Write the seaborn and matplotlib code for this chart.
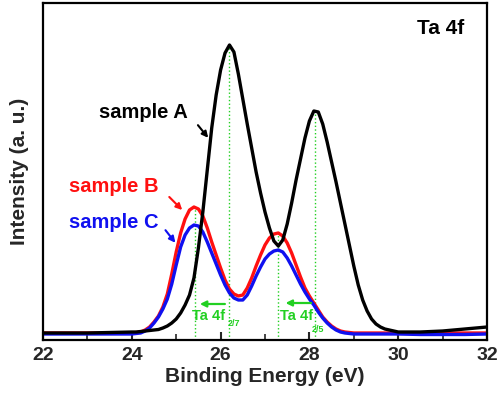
import numpy as np
import pandas as pd
import matplotlib
matplotlib.use("Agg")
import matplotlib.pyplot as plt
from matplotlib.ticker import MultipleLocator
import seaborn as sns

# ---- data ----
energy = [22.0, 22.5, 23.0, 23.5,
          24.0, 24.1, 24.2, 24.3, 24.4, 24.5, 24.6, 24.7, 24.8, 24.9,
          25.0, 25.1, 25.2, 25.3, 25.4, 25.5, 25.6, 25.7, 25.8, 25.9,
          26.0, 26.1, 26.2, 26.3, 26.4, 26.5, 26.6, 26.7, 26.8, 26.9,
          27.0, 27.1, 27.2, 27.3, 27.4, 27.5, 27.6, 27.7, 27.8, 27.9,
          28.0, 28.1, 28.2, 28.3, 28.4, 28.5, 28.6, 28.7, 28.8, 28.9,
          29.0, 29.1, 29.2, 29.3, 29.4, 29.5, 29.6, 29.7, 29.8, 29.9,
          30.0, 30.5, 31.0, 31.5, 32.0]

sample_a = [7, 7, 7, 7.5,
            8, 8, 8.5, 9, 9.5, 10, 10.5, 12, 14, 17,
            21, 27, 35, 45, 62, 92, 128, 170, 212, 245,
            270, 287, 295, 288, 266, 241, 216, 192, 168, 147,
            128, 112, 99, 94, 100, 116, 137, 160, 181, 202,
            219, 229, 228, 216, 198, 178, 158, 137, 116, 95,
            74, 55, 40, 29, 21, 16, 13, 11, 10, 9,
            8, 8, 9, 11, 13]

sample_b = [7, 7, 7, 7,
            7, 7.5, 8, 10, 13, 18, 24, 33, 46, 66,
            88, 107, 121, 130, 133, 131, 124, 112, 98, 85,
            72, 60, 51, 46, 44, 45, 52, 62, 74, 85,
            95, 102, 106, 107, 104, 97, 87, 75, 63, 52,
            44, 37, 30, 23, 18, 14, 11, 9, 8, 7.5,
            7, 7, 7, 7, 7, 7, 7, 7, 7, 7,
            7, 7, 7, 7, 7]

sample_c = [6, 6, 6, 6,
            6, 6.5, 7, 9, 12, 17, 23, 31, 41, 56,
            75, 93, 105, 112, 115, 114, 108, 98, 87, 76,
            65, 55, 47, 42, 40, 40, 45, 54, 64, 73,
            81, 86, 89, 90, 88, 82, 74, 65, 56, 48,
            41, 35, 28, 22, 17, 13, 10, 8, 7, 6.5,
            6, 6, 6, 6, 6, 6, 6, 6, 6, 6,
            6, 5.5, 5.5, 5.5, 6]

series_names = ["sample A", "sample B", "sample C"]
series_colors = {"sample A": "#000000", "sample B": "#ff1010", "sample C": "#1010f0"}

# peak positions (vertical dotted guides) and their heights
peak_pos = [25.43, 26.2, 27.3, 28.13]
peak_top = [133, 295, 107, 230]

green = "#22d022"

df = pd.concat([
    pd.DataFrame({"Binding Energy (eV)": energy, "Intensity": vals, "sample": name})
    for name, vals in zip(series_names, [sample_a, sample_b, sample_c])
], ignore_index=True)

sns.set_theme(style="ticks")
plt.rcParams["font.family"] = ["Liberation Sans", "DejaVu Sans"]
plt.rcParams["font.weight"] = "bold"

fig = plt.figure(figsize=(5, 4), dpi=100)
ax = fig.add_axes([0.086, 0.15, 0.888, 0.8425])

# draw red, blue first, black last
for name in ["sample B", "sample C", "sample A"]:
    sns.lineplot(data=df[df["sample"] == name], x="Binding Energy (eV)", y="Intensity",
                 color=series_colors[name], lw=2.4, ax=ax, legend=False, sort=False)

# dotted guides
for xp, yt in zip(peak_pos, peak_top):
    ax.plot([xp, xp], [0, yt], ls=":", color=green, lw=1.0, zorder=1)

# green arrows and labels
ax.annotate("", xy=(25.47, 36), xytext=(26.16, 36),
            arrowprops=dict(arrowstyle="-|>", color=green, lw=1.6, mutation_scale=9))
ax.annotate("", xy=(27.4, 37), xytext=(28.1, 37),
            arrowprops=dict(arrowstyle="-|>", color=green, lw=1.6, mutation_scale=9))
ax.text(25.36, 24, "Ta 4f", color=green, fontsize=10.5, fontweight="bold", va="center", ha="left")
ax.text(26.16, 16, "2/7", color=green, fontsize=6.5, fontweight="bold", va="center", ha="left")
ax.text(27.34, 24, "Ta 4f", color=green, fontsize=10.5, fontweight="bold", va="center", ha="left")
ax.text(28.06, 11, "2/5", color=green, fontsize=6.5, fontweight="bold", va="center", ha="left")

# sample labels with arrows
ax.text(24.27, 228, "sample A", color="black", fontsize=14.5, fontweight="bold", ha="center", va="center")
ax.annotate("", xy=(25.76, 200), xytext=(25.45, 217),
            arrowprops=dict(arrowstyle="-|>", color="black", lw=1.5, mutation_scale=9))
ax.text(23.6, 153, "sample B", color=series_colors["sample B"], fontsize=14.5, fontweight="bold",
        ha="center", va="center")
ax.annotate("", xy=(25.18, 128), xytext=(24.8, 145),
            arrowprops=dict(arrowstyle="-|>", color=series_colors["sample B"], lw=1.5, mutation_scale=9))
ax.text(23.6, 118, "sample C", color=series_colors["sample C"], fontsize=14.5, fontweight="bold",
        ha="center", va="center")
ax.annotate("", xy=(25.02, 95), xytext=(24.72, 112),
            arrowprops=dict(arrowstyle="-|>", color=series_colors["sample C"], lw=1.5, mutation_scale=9))

ax.text(30.96, 312, "Ta 4f", color="black", fontsize=15, fontweight="bold", ha="center", va="center")

ax.set_xlim(22, 32)
ax.set_ylim(0, 337)
ax.xaxis.set_major_locator(MultipleLocator(2))
ax.xaxis.set_minor_locator(MultipleLocator(1))
ax.tick_params(axis="x", which="major", direction="in", length=6, width=1.5, labelsize=14, pad=5)
ax.tick_params(axis="x", which="minor", direction="in", length=4, width=1.2)
ax.set_yticks([])
for lab in ax.get_xticklabels():
    lab.set_fontweight("bold")
ax.set_xlabel("Binding Energy (eV)", fontsize=15, fontweight="bold", labelpad=2)
ax.set_ylabel("Intensity (a. u.)", fontsize=15, fontweight="bold", labelpad=10)
for sp in ax.spines.values():
    sp.set_visible(True)
    sp.set_linewidth(1.6)
    sp.set_color("black")

fig.savefig("out.png", dpi=100)
